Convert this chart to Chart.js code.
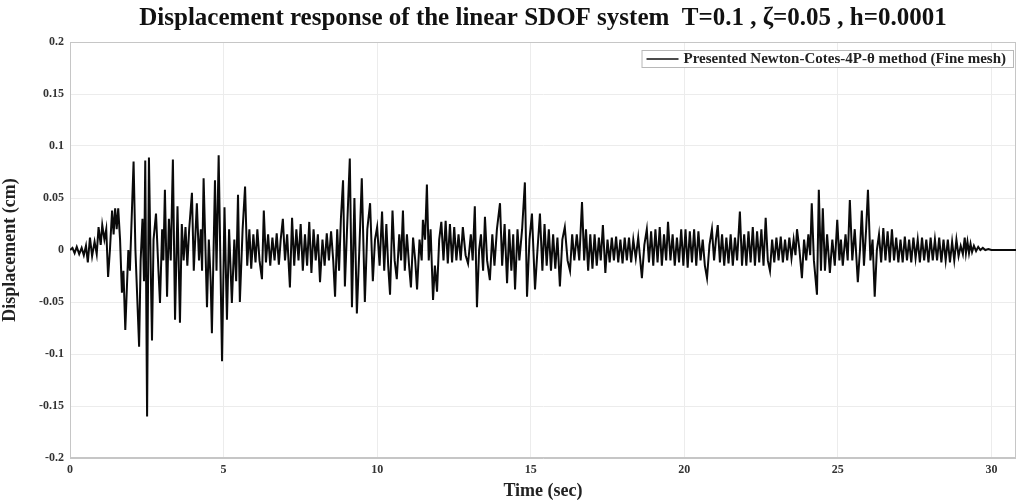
<!DOCTYPE html>
<html><head><meta charset="utf-8">
<script src="https://cdn.jsdelivr.net/npm/chart.js@4/dist/chart.umd.min.js"></script>
<style>html,body{margin:0;padding:0;background:#fff;} #wrap{width:1016px;height:502px;}</style>
</head><body><div id="wrap"><canvas id="c" width="1016" height="502"></canvas></div>
<script>
const chartTitle = 'Displacement response of the linear SDOF system  T=0.1 , \u03B6=0.05 , h=0.0001';
const seriesLabel = 'Presented Newton-Cotes-4P-\u03B8 method (Fine mesh)';
const xAxisTitle = 'Time (sec)';
const yAxisTitle = 'Displacement (cm)';
const xTickValues = [0, 5, 10, 15, 20, 25, 30];
const xTickLabels = ['0', '5', '10', '15', '20', '25', '30'];
const yTickValues = [-0.2, -0.15, -0.1, -0.05, 0, 0.05, 0.1, 0.15, 0.2];
const yTickLabels = ['-0.2', '-0.15', '-0.1', '-0.05', '0', '0.05', '0.1', '0.15', '0.2'];

const timeSec = [
0.00,0.08,0.15,0.22,0.30,0.38,0.45,0.52,0.58,0.65,
0.72,0.80,0.87,0.93,1.00,1.05,1.12,1.18,1.24,1.30,
1.37,1.42,1.47,1.52,1.57,1.63,1.69,1.74,1.80,1.86,
1.90,1.95,2.07,2.13,2.25,2.30,2.36,2.41,2.45,2.51,
2.57,2.63,2.67,2.72,2.80,2.88,2.93,3.00,3.04,3.09,
3.16,3.22,3.28,3.35,3.42,3.50,3.58,3.64,3.70,3.76,
3.82,3.88,3.97,4.03,4.13,4.20,4.26,4.30,4.35,4.46,
4.52,4.58,4.62,4.72,4.77,4.84,4.95,5.03,5.11,5.18,
5.27,5.35,5.41,5.47,5.53,5.62,5.70,5.77,5.84,5.90,
5.97,6.04,6.10,6.17,6.25,6.31,6.38,6.45,6.52,6.59,
6.66,6.73,6.80,6.86,6.93,7.00,7.07,7.16,7.23,7.30,
7.37,7.44,7.51,7.58,7.65,7.72,7.79,7.86,7.93,8.00,
8.07,8.14,8.22,8.29,8.36,8.43,8.50,8.57,8.63,8.70,
8.76,8.82,8.89,8.95,9.02,9.11,9.18,9.26,9.34,9.42,
9.50,9.60,9.68,9.77,9.86,9.93,10.00,10.08,10.16,10.23,
10.30,10.36,10.42,10.50,10.57,10.64,10.72,10.78,10.84,10.90,
10.97,11.04,11.10,11.17,11.24,11.30,11.38,11.45,11.49,11.56,
11.62,11.68,11.74,11.82,11.88,11.95,12.02,12.09,12.16,12.23,
12.30,12.37,12.44,12.51,12.58,12.65,12.72,12.79,12.88,12.96,
13.05,13.11,13.18,13.25,13.32,13.38,13.45,13.51,13.58,13.67,
13.75,13.82,13.90,14.00,14.07,14.15,14.23,14.30,14.37,14.43,
14.49,14.57,14.63,14.72,14.81,14.88,14.96,15.04,15.14,15.22,
15.30,15.38,15.45,15.52,15.59,15.66,15.73,15.80,15.87,15.95,
16.03,16.11,16.20,16.28,16.35,16.42,16.50,16.58,16.67,16.74,
16.80,16.87,16.94,17.01,17.08,17.15,17.22,17.28,17.35,17.43,
17.50,17.57,17.64,17.71,17.78,17.85,17.92,17.99,18.06,18.13,
18.20,18.27,18.34,18.42,18.50,18.62,18.70,18.78,18.85,18.92,
18.99,19.06,19.13,19.20,19.27,19.34,19.41,19.47,19.55,19.62,
19.69,19.76,19.83,19.90,19.97,20.04,20.11,20.18,20.25,20.32,
20.39,20.46,20.53,20.60,20.67,20.74,20.82,20.90,20.97,21.03,
21.09,21.16,21.23,21.30,21.37,21.44,21.51,21.58,21.65,21.72,
21.81,21.88,21.95,22.02,22.09,22.16,22.23,22.30,22.37,22.44,
22.51,22.58,22.65,22.72,22.79,22.86,22.93,23.00,23.07,23.14,
23.21,23.28,23.35,23.42,23.49,23.56,23.62,23.67,23.75,23.83,
23.90,23.97,24.04,24.10,24.15,24.22,24.32,24.38,24.45,24.51,
24.58,24.65,24.74,24.82,24.90,24.98,25.05,25.10,25.16,25.25,
25.32,25.39,25.47,25.55,25.65,25.72,25.78,25.85,25.92,25.98,
26.06,26.13,26.20,26.27,26.34,26.41,26.48,26.55,26.62,26.69,
26.76,26.83,26.90,26.97,27.04,27.11,27.18,27.25,27.32,27.39,
27.46,27.53,27.60,27.67,27.74,27.81,27.88,27.95,28.02,28.09,
28.16,28.23,28.30,28.37,28.44,28.51,28.58,28.65,28.72,28.79,
28.86,28.93,29.00,29.07,29.13,29.17,29.22,29.27,29.32,29.37,
29.43,29.50,29.57,29.64,29.72,29.80,29.90,30.00,30.50,30.80
];

const displacementCm = [
0,0.002,-0.003,0.003,-0.004,0.002,-0.005,0.004,-0.012,0.012,
-0.006,0.008,-0.004,0.022,0.005,0.024,0.010,0.020,-0.026,0.000,
0.038,0.015,0.040,0.020,0.040,0.010,-0.041,-0.020,-0.077,-0.030,
0.000,-0.020,0.085,0.000,-0.093,-0.010,0.030,-0.030,0.086,-0.160,
0.089,-0.020,-0.087,0.010,0.035,-0.020,-0.051,0.020,-0.010,0.058,
-0.045,0.030,-0.010,0.087,-0.067,0.042,-0.070,0.025,-0.010,0.022,
-0.015,0.020,0.055,-0.020,0.045,-0.010,0.020,-0.020,0.069,-0.055,
0.010,-0.030,-0.080,0.067,-0.020,0.091,-0.107,0.041,-0.067,0.020,
-0.051,0.010,-0.030,0.053,-0.050,0.020,0.061,-0.015,0.020,-0.018,
0.015,-0.012,0.020,-0.010,-0.028,0.038,-0.012,0.015,-0.015,0.012,
-0.010,0.016,-0.014,0.010,0.030,-0.010,0.015,-0.036,0.031,-0.015,
0.020,-0.010,0.025,-0.020,0.015,-0.015,0.027,-0.022,0.020,-0.010,
0.015,-0.031,0.010,-0.015,0.016,-0.010,0.018,-0.010,-0.045,0.020,
-0.020,0.030,0.067,-0.035,0.020,0.088,-0.055,0.050,-0.061,0.000,
0.069,-0.050,0.020,0.045,-0.030,0.010,0.022,-0.015,0.037,-0.020,
0.025,-0.015,-0.043,0.038,-0.010,-0.028,0.015,-0.010,0.038,-0.020,
0.015,-0.015,-0.036,0.012,-0.010,-0.038,0.010,-0.010,0.029,0.010,
0.063,-0.010,0.020,-0.048,-0.015,-0.040,0.010,0.027,-0.010,0.028,
-0.013,0.025,-0.012,0.022,-0.010,0.015,-0.010,0.022,-0.005,-0.013,
0.015,-0.010,0.042,-0.055,0.000,0.015,-0.020,0.032,-0.010,-0.029,
0.015,-0.015,0.020,0.045,-0.015,0.025,-0.032,0.020,-0.020,0.015,
-0.038,0.020,-0.010,0.020,0.065,-0.045,0.010,0.035,-0.038,0.000,
0.035,-0.020,0.025,-0.015,0.020,-0.020,0.015,-0.018,0.012,-0.035,
0.010,0.022,-0.010,-0.020,0.015,-0.010,0.015,-0.010,0.046,-0.010,
0.020,-0.020,0.015,-0.018,0.015,-0.015,0.012,-0.010,0.024,-0.022,
0.010,-0.012,0.012,-0.010,0.013,-0.012,0.010,-0.013,0.012,-0.010,
0.012,-0.012,0.010,-0.008,0.012,-0.027,0.005,0.020,-0.012,0.018,
-0.015,0.020,-0.012,0.022,-0.015,0.015,-0.010,0.027,-0.010,0.015,
-0.015,0.012,-0.012,0.020,-0.015,0.020,-0.017,0.018,-0.012,0.020,
-0.015,0.018,-0.010,0.010,-0.015,-0.027,0.005,0.020,-0.010,0.010,
0.024,-0.012,0.015,-0.015,0.012,-0.013,0.015,-0.015,0.012,-0.010,
0.037,-0.015,0.015,-0.015,0.018,-0.012,0.022,-0.015,0.018,-0.012,
0.020,-0.015,0.031,-0.010,-0.020,0.010,-0.012,0.012,-0.010,0.013,
-0.012,0.010,-0.010,0.012,-0.008,0.010,-0.005,0.020,0.000,-0.027,
0.010,-0.010,0.015,-0.005,0.045,-0.010,-0.043,0.058,-0.020,0.040,
-0.020,0.015,-0.022,0.010,-0.015,0.029,-0.010,0.010,-0.015,0.015,
-0.010,0.048,-0.010,0.020,-0.031,0.000,0.038,-0.015,0.020,0.058,
-0.010,0.010,-0.045,0.000,0.015,-0.012,0.021,-0.010,0.018,-0.012,
0.020,-0.010,0.012,-0.012,0.010,-0.012,0.013,-0.010,0.010,-0.012,
0.012,-0.008,0.010,-0.012,0.012,-0.010,0.010,-0.012,0.012,-0.010,
0.010,-0.010,0.012,-0.012,0.010,-0.010,0.010,-0.012,0.008,-0.010,
0.010,-0.006,0.004,-0.004,0.012,-0.003,0.008,-0.003,0.006,-0.002,
0.004,-0.001,0.003,0.000,0.002,0.000,0.001,0.000,0.000,0.000
];

const serif = '"Liberation Serif", "Times New Roman", serif';

const frameAndLegend = {
  id: 'frameAndLegend',
  beforeDatasetsDraw(chart) {
    const {ctx, chartArea: a} = chart;
    ctx.save();
    ctx.strokeStyle = '#c6c6c6';
    ctx.lineWidth = 1;
    ctx.strokeRect(a.left + 0.5, a.top + 0.5, a.right - a.left - 1, a.bottom - a.top - 1);
    ctx.restore();
  },
  afterDatasetsDraw(chart) {
    const {ctx, chartArea: a} = chart;
    const label = chart.data.datasets[0].label;
    ctx.save();
    ctx.font = 'bold 15px ' + serif;
    const tw = ctx.measureText(label).width;
    const lineLen = 32, pad = 5, h = 17;
    const w = tw + lineLen + pad * 3 + 2;
    const x = a.right - 3 - w, y = a.top + 8;
    ctx.fillStyle = '#fff';
    ctx.fillRect(x, y, w, h);
    ctx.strokeStyle = '#b8b8b8';
    ctx.lineWidth = 1;
    ctx.strokeRect(x + 0.5, y + 0.5, w, h);
    ctx.strokeStyle = '#111';
    ctx.lineWidth = 1.5;
    ctx.beginPath();
    ctx.moveTo(x + pad, y + h / 2 + 0.5);
    ctx.lineTo(x + pad + lineLen, y + h / 2 + 0.5);
    ctx.stroke();
    ctx.fillStyle = '#222';
    ctx.textBaseline = 'middle';
    ctx.fillText(label, x + pad * 2 + lineLen, y + h / 2 + 1);
    ctx.restore();
  }
};

new Chart(document.getElementById('c'), {
  type: 'line',
  data: {
    datasets: [{
      label: seriesLabel,
      data: timeSec.map((t, i) => ({x: t, y: displacementCm[i]})),
      borderColor: '#0a0a0a',
      borderWidth: 2,
      pointRadius: 0,
      tension: 0,
      fill: false
    }]
  },
  options: {
    responsive: false,
    devicePixelRatio: 1,
    animation: false,
    layout: {padding: {left: 0, right: 0, top: 0, bottom: 0}},
    plugins: {
      legend: {display: false},
      tooltip: {enabled: false},
      title: {
        display: true,
        text: chartTitle,
        fullSize: false,
        color: '#111',
        font: {family: serif, size: 25, weight: 'bold', lineHeight: 1.2},
        padding: {top: 4, bottom: 8}
      }
    },
    scales: {
      x: {
        type: 'linear',
        min: 0,
        max: 30.8,
        afterBuildTicks: s => { s.ticks = xTickValues.map(v => ({value: v})); },
        afterFit: s => { s.height = 44; },
        grid: {color: '#ececec', drawTicks: false},
        border: {color: '#c6c6c6'},
        ticks: {
          callback: (v, i) => xTickLabels[i],
          font: {family: serif, size: 12, weight: 'bold'},
          color: '#333',
          padding: 5,
          maxRotation: 0
        },
        title: {
          display: true,
          text: xAxisTitle,
          color: '#222',
          font: {family: serif, size: 18, weight: 'bold'},
          padding: {top: 0, bottom: 0}
        }
      },
      y: {
        type: 'linear',
        min: -0.2,
        max: 0.2,
        afterBuildTicks: s => { s.ticks = yTickValues.map(v => ({value: v})); },
        afterFit: s => { s.width = 70; },
        grid: {color: '#ececec', drawTicks: false},
        border: {color: '#c6c6c6'},
        ticks: {
          callback: (v, i) => yTickLabels[i],
          font: {family: serif, size: 12, weight: 'bold'},
          color: '#333',
          padding: 6
        },
        title: {
          display: true,
          text: yAxisTitle,
          color: '#222',
          font: {family: serif, size: 18, weight: 'bold'},
          padding: {top: 0, bottom: 2}
        }
      }
    }
  },
  plugins: [frameAndLegend]
});
</script>
</body></html>
